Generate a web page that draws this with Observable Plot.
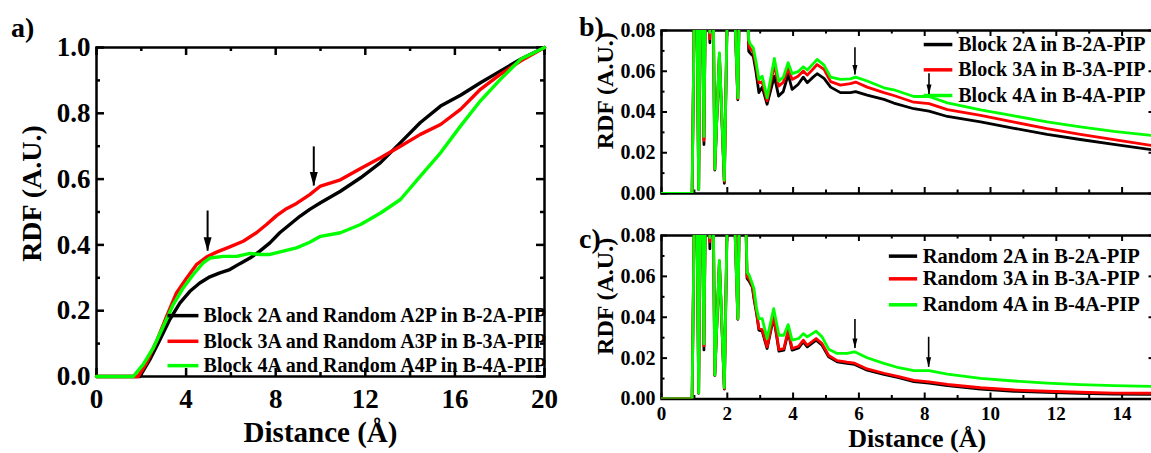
<!DOCTYPE html>
<html><head><meta charset="utf-8">
<script src="https://cdn.jsdelivr.net/npm/d3@7"></script>
<script src="https://cdn.jsdelivr.net/npm/@observablehq/plot@0.6"></script>
<style>
html,body{margin:0;padding:0;background:#fff;}
#root{position:relative;width:1151px;height:453px;overflow:hidden;font-family:'Liberation Serif','Times New Roman',serif;}
.panel{position:absolute;}
.panel svg{max-width:none;}
.tag{position:absolute;font:bold 28px 'Liberation Serif','Times New Roman',serif;line-height:1;}
</style></head><body><div id="root"></div>
<script>
// ---------- Panel a data (Distance, RDF) ----------
const a2A = [[0,0],[1.93,0],[2.38,0.051],[2.83,0.112],[3.27,0.173],[3.72,0.223],[4.17,0.259],[4.61,0.284],[5.06,0.303],[5.51,0.315],[5.95,0.325],[6.4,0.343],[6.85,0.36],[7.29,0.381],[7.74,0.406],[8.18,0.437],[8.63,0.462],[9.08,0.487],[9.52,0.508],[10,0.528],[10.89,0.563],[11.79,0.604],[12.68,0.65],[13.57,0.711],[14.46,0.772],[15.36,0.822],[16.25,0.855],[17.14,0.893],[18.04,0.929],[18.93,0.964],[20,1]];
const a3A = [[0,0],[1.86,0],[2.23,0.041],[2.68,0.107],[3.13,0.183],[3.57,0.254],[4.02,0.299],[4.46,0.34],[4.91,0.363],[5.36,0.378],[5.95,0.394],[6.55,0.411],[7.14,0.437],[7.59,0.462],[8.04,0.489],[8.48,0.51],[8.93,0.526],[9.52,0.553],[10,0.579],[10.89,0.598],[11.79,0.632],[12.68,0.665],[13.57,0.7],[14.46,0.736],[15.36,0.766],[16.25,0.812],[17.14,0.873],[18.04,0.919],[18.93,0.959],[20,1]];
const a4A = [[0,0],[1.64,0],[2.08,0.036],[2.53,0.086],[2.98,0.152],[3.42,0.218],[3.87,0.269],[4.32,0.31],[4.76,0.345],[5.06,0.36],[5.65,0.365],[6.25,0.365],[6.85,0.374],[7.29,0.371],[7.74,0.371],[8.33,0.381],[8.93,0.391],[9.52,0.408],[10,0.426],[10.89,0.437],[11.79,0.462],[12.68,0.497],[13.57,0.538],[14.46,0.609],[15.36,0.68],[16.25,0.761],[17.14,0.838],[18.04,0.904],[18.93,0.964],[20,1]];
const aLabels = ["Block 2A and Random A2P in B-2A-PIP","Block 3A and Random A3P in B-3A-PIP","Block 4A and Random A4P in B-4A-PIP"];
const aXTicks = [0,4,8,12,16,20], aXMinor = [2,6,10,14,18];
const aYTicks = [0,0.2,0.4,0.6,0.8,1.0], aYMinor = [0.1,0.3,0.5,0.7,0.9];
const aArrowX = [4.96, 9.70], aArrowTop = [0.503, 0.698], aArrowTip = [0.381, 0.579];

// ---------- Panel b data ----------
const bDist = [0,0.93,1.04,1.13,1.2,1.29,1.37,1.47,1.54,1.62,1.76,1.91,2.03,2.12,2.2,2.32,2.42,2.52,2.6,2.65,2.69,2.79,2.87,2.96,3.06,3.21,3.43,3.56,3.7,3.85,3.97,4.15,4.31,4.43,4.6,4.73,4.94,5.14,5.44,5.74,5.9,6.25,6.76,7.06,7.67,8.13,8.69,9.7,10.72,11.72,12.73,13.75,14.9,15];
const b2A = [0,0,0.15,0.002,0.15,0.024,0.15,0.074,0.15,0.0115,0.068,0.005,0.12,0.2,0.1,0.046,0.15,0.2,0.1,0.0699,0.069,0.0674,0.06,0.0495,0.0522,0.0438,0.0576,0.0478,0.050,0.0584,0.0511,0.0535,0.0571,0.0544,0.057,0.0588,0.0565,0.0522,0.0495,0.0495,0.05,0.0483,0.0462,0.0444,0.0416,0.0404,0.0378,0.0351,0.032,0.029,0.0265,0.0241,0.0215,0.0213];
const b3A = [0,0,0.15,0.0025,0.15,0.026,0.15,0.076,0.15,0.012,0.0685,0.006,0.12,0.2,0.1,0.0465,0.15,0.2,0.1,0.073,0.0712,0.0695,0.063,0.0544,0.0548,0.0454,0.0633,0.0527,0.0545,0.0617,0.056,0.0575,0.0601,0.0581,0.061,0.0633,0.0609,0.0549,0.0532,0.0539,0.0547,0.0522,0.0495,0.0481,0.0448,0.0441,0.0412,0.0383,0.035,0.0318,0.029,0.0264,0.0236,0.0234];
const b4A = [0,0,0.15,0.002,0.15,0.028,0.15,0.079,0.15,0.012,0.069,0.0065,0.12,0.2,0.1,0.047,0.15,0.2,0.1,0.0756,0.0735,0.0715,0.065,0.056,0.0576,0.047,0.0663,0.0552,0.057,0.0642,0.0588,0.0598,0.0622,0.0606,0.0635,0.0658,0.063,0.0571,0.056,0.0563,0.0571,0.0552,0.0519,0.0509,0.0476,0.0476,0.0445,0.0411,0.0381,0.0351,0.0327,0.0305,0.0285,0.0283];
const bLabels = ["Block 2A in B-2A-PIP","Block 3A in B-3A-PIP","Block 4A in B-4A-PIP"];
const bArrowX = [5.88, 8.13], bArrowTop = [0.0715, 0.0588], bArrowTip = [0.0581, 0.0486];

// ---------- Panel c data ----------
const cDist = [0,0.93,1.04,1.13,1.2,1.29,1.37,1.47,1.54,1.62,1.76,1.91,2.03,2.12,2.2,2.32,2.42,2.5,2.56,2.6,2.67,2.76,2.81,2.89,2.96,3.06,3.21,3.41,3.57,3.72,3.85,3.97,4.17,4.31,4.43,4.7,4.88,5.08,5.34,5.64,5.87,6.25,6.76,7.21,7.67,8.13,8.69,9.7,10.72,11.72,12.73,13.75,14.9,15];
const c2A = [0,0,0.15,0.0028,0.15,0.024,0.15,0.0735,0.15,0.0115,0.067,0.0049,0.12,0.2,0.1,0.039,0.15,0.2,0.09,0.059,0.0575,0.0548,0.049,0.0418,0.0337,0.0332,0.0247,0.040,0.0234,0.0239,0.0328,0.0239,0.025,0.028,0.0255,0.0288,0.0263,0.0206,0.0182,0.0174,0.0169,0.0141,0.012,0.0104,0.0085,0.0078,0.0065,0.0049,0.0038,0.0033,0.0028,0.0024,0.0023,0.0023];
const c3A = [0,0,0.15,0.003,0.15,0.026,0.15,0.077,0.15,0.0117,0.0675,0.0052,0.12,0.2,0.1,0.0392,0.15,0.2,0.09,0.060,0.0585,0.0555,0.050,0.0425,0.0345,0.034,0.0255,0.041,0.0242,0.0247,0.0336,0.0247,0.0258,0.0288,0.0263,0.0296,0.0271,0.0213,0.0188,0.018,0.0175,0.0147,0.0126,0.011,0.0091,0.0084,0.0071,0.0055,0.0044,0.0038,0.0033,0.0029,0.0028,0.0028];
const c4A = [0,0,0.15,0.003,0.15,0.027,0.15,0.079,0.15,0.0117,0.0678,0.0055,0.12,0.2,0.1,0.0393,0.15,0.2,0.09,0.0621,0.0605,0.0564,0.054,0.0442,0.0393,0.0393,0.0296,0.0442,0.0312,0.0312,0.0364,0.0288,0.0296,0.032,0.0304,0.0332,0.0304,0.0244,0.0223,0.0223,0.0231,0.0202,0.0174,0.0153,0.0139,0.0139,0.0122,0.0101,0.0088,0.0078,0.007,0.0065,0.0062,0.0062];
const cLabels = ["Random 2A in B-2A-PIP","Random 3A in B-3A-PIP","Random 4A in B-4A-PIP"];
const cArrowX = [5.88, 8.12], cArrowTop = [0.0389, 0.0302], cArrowTip = [0.0247, 0.0155];

const bcXTicks = [0,2,4,6,8,10,12,14], bcXMinor = [1,3,5,7,9,11,13];
const bcYTicks = [0,0.02,0.04,0.06,0.08], bcYMinor = [0.01,0.03,0.05,0.07];

const colors = ["#000000","#ff0000","#00ff00"];
const FONT = "Liberation Serif";

function headSymbol(w, len) {
  return {draw(ctx) { ctx.moveTo(0, 0); ctx.lineTo(-w/2, -len); ctx.lineTo(w/2, -len); ctx.closePath(); }};
}

function frameTicks(o) {
  const fh = o.height - o.mt - o.mb, fw = o.width - o.ml - o.mr;
  const s = {stroke: "black", strokeWidth: o.tickW};
  const m = [];
  for (const [ticks, len] of [[o.xMajor, o.majLen], [o.xMinor, o.minLen]]) {
    m.push(Plot.tickX(ticks, {x: d => d, insetTop: fh - len, ...s}));
    m.push(Plot.tickX(ticks, {x: d => d, insetBottom: fh - len, ...s}));
  }
  for (const [ticks, len] of [[o.yMajor, o.majLen], [o.yMinor, o.minLen]]) {
    m.push(Plot.tickY(ticks, {y: d => d, insetRight: fw - len, ...s}));
    m.push(Plot.tickY(ticks, {y: d => d, insetLeft: fw - len, ...s}));
  }
  return m;
}

function legendMarks(labels, x1, x2, xt, ys, fontSize, lw) {
  const idx = labels.map((d, i) => i);
  return [
    Plot.link(idx, {x1: () => x1, x2: () => x2, y1: i => ys[i], y2: i => ys[i], stroke: i => colors[i], strokeWidth: lw}),
    Plot.text(idx, {x: () => xt, y: i => ys[i], text: i => labels[i], textAnchor: "start", lineAnchor: "middle", fontSize, fontWeight: "bold", fontFamily: FONT, fill: "black"})
  ];
}

function arrowMarks(xs, tops, tips, head, lw) {
  const idx = xs.map((d, i) => i);
  return [
    Plot.ruleX(idx, {x: i => xs[i], y1: i => tops[i], y2: i => tips[i], stroke: "black", strokeWidth: lw}),
    Plot.dot(idx, {x: i => xs[i], y: i => tips[i], symbol: head, r: 5, fill: "black", stroke: "none"})
  ];
}

function yTitle(text, x, y, fontSize) {
  return Plot.text([text], {text: d => d, x: () => x, y: () => y, rotate: -90, textAnchor: "middle", lineAnchor: "middle", fontSize, fontWeight: "bold", fontFamily: FONT, fill: "black"});
}

function addPanel(left, top, svg) {
  const d = document.createElement("div");
  d.className = "panel";
  d.style.left = left + "px"; d.style.top = top + "px";
  d.appendChild(svg);
  document.getElementById("root").appendChild(d);
}
function addTag(text, left, top) {
  const d = document.createElement("div");
  d.className = "tag"; d.textContent = text;
  d.style.left = left + "px"; d.style.top = top + "px";
  document.getElementById("root").appendChild(d);
}

// ---------- Panel a ----------
{
  const o = {width: 580, height: 453, mt: 47, mb: 77, ml: 96, mr: 36, xMajor: aXTicks, xMinor: aXMinor, yMajor: aYTicks, yMinor: aYMinor, majLen: 8, minLen: 4, tickW: 2.5};
  const series = [a2A, a3A, a4A];
  const svg = Plot.plot({
    width: o.width, height: o.height, marginTop: o.mt, marginBottom: o.mb, marginLeft: o.ml, marginRight: o.mr,
    x: {domain: [0, 20], label: null},
    y: {domain: [0, 1], label: null},
    style: {fontFamily: FONT, fontWeight: "bold", background: "white", color: "black"},
    marks: [
      Plot.frame({stroke: "black", strokeWidth: 2.5}),
      ...frameTicks(o),
      ...series.map((s, i) => Plot.line(s, {x: d => d[0], y: d => d[1], stroke: colors[i], strokeWidth: 3.4})),
      ...legendMarks(aLabels, 3.17, 4.55, 4.78, [0.185, 0.107, 0.033], 20, 3.5),
      ...arrowMarks(aArrowX, aArrowTop, aArrowTip, headSymbol(8, 14), 2),
      Plot.axisX(aXTicks, {tickSize: 0, tickPadding: 12, tickFormat: d => String(d), fontSize: 27, fontWeight: "bold", fontFamily: FONT, label: null}),
      Plot.axisY(aYTicks, {tickSize: 0, tickPadding: 6, tickFormat: d3.format(".1f"), fontSize: 27, fontWeight: "bold", fontFamily: FONT, label: null}),
      Plot.text(["Distance (Å)"], {text: d => d, frameAnchor: "bottom", dy: 56, lineAnchor: "middle", fontSize: 29, fontWeight: "bold", fontFamily: FONT}),
      yTitle("RDF (A.U.)", -2.9, 0.556, 28)
    ]
  });
  addPanel(0, 0, svg);
}

// ---------- Panels b and c ----------
function bcPanel(top, height, mt, mb, dist, series, labels, legX1, legX2, legXT, legYs, legFont, arrX, arrTop, arrTip, titleY, showX) {
  const o = {width: 580, height, mt, mb, ml: 81, mr: 5.5, xMajor: bcXTicks, xMinor: bcXMinor, yMajor: bcYTicks, yMinor: bcYMinor, majLen: 6, minLen: 3.5, tickW: 2};
  const marks = [
    Plot.frame({stroke: "black", strokeWidth: 2.5}),
    ...frameTicks(o),
    ...series.map((s, i) => Plot.line(s, {x: dist, y: s, stroke: colors[i], strokeWidth: 2.8, clip: true})),
    ...legendMarks(labels, legX1, legX2, legXT, legYs, legFont, 3.5),
    ...arrowMarks(arrX, arrTop, arrTip, headSymbol(5, 10), 1.6),
    Plot.axisY(bcYTicks, {tickSize: 0, tickPadding: 6, tickFormat: d3.format(".2f"), fontSize: 20, fontWeight: "bold", fontFamily: FONT, label: null}),
    yTitle("RDF (A.U.)", -1.70, titleY, 24)
  ];
  if (showX) {
    marks.push(Plot.axisX(bcXTicks, {tickSize: 0, tickPadding: 7, tickFormat: d => String(d), fontSize: 19, fontWeight: "bold", fontFamily: FONT, label: null}));
    marks.push(Plot.text(["Distance (Å)"], {text: d => d, frameAnchor: "bottom", dx: 9, dy: 40, lineAnchor: "middle", fontSize: 26, fontWeight: "bold", fontFamily: FONT}));
  }
  const svg = Plot.plot({
    width: o.width, height, marginTop: mt, marginBottom: mb, marginLeft: o.ml, marginRight: o.mr,
    x: {domain: [0, 15], label: null, ...(showX ? {} : {axis: null})},
    y: {domain: [0, 0.08], label: null},
    style: {fontFamily: FONT, fontWeight: "bold", background: "white", color: "black"},
    marks
  });
  addPanel(580, top, svg);
}
bcPanel(0, 220, 30, 27, bDist, [b2A, b3A, b4A], bLabels, 7.97, 8.84, 9.02, [0.0731, 0.0607, 0.0481], 20, bArrowX, bArrowTop, bArrowTip, 0.0504, false);
bcPanel(220, 233, 15, 54.5, cDist, [c2A, c3A, c4A], cLabels, 6.91, 7.77, 7.94, [0.0699, 0.0588, 0.0461], 20.5, cArrowX, cArrowTop, cArrowTip, 0.0502, true);

addTag("a)", 11, 14);
addTag("b)", 579, 13);
addTag("c)", 579, 225);
</script></body></html>
